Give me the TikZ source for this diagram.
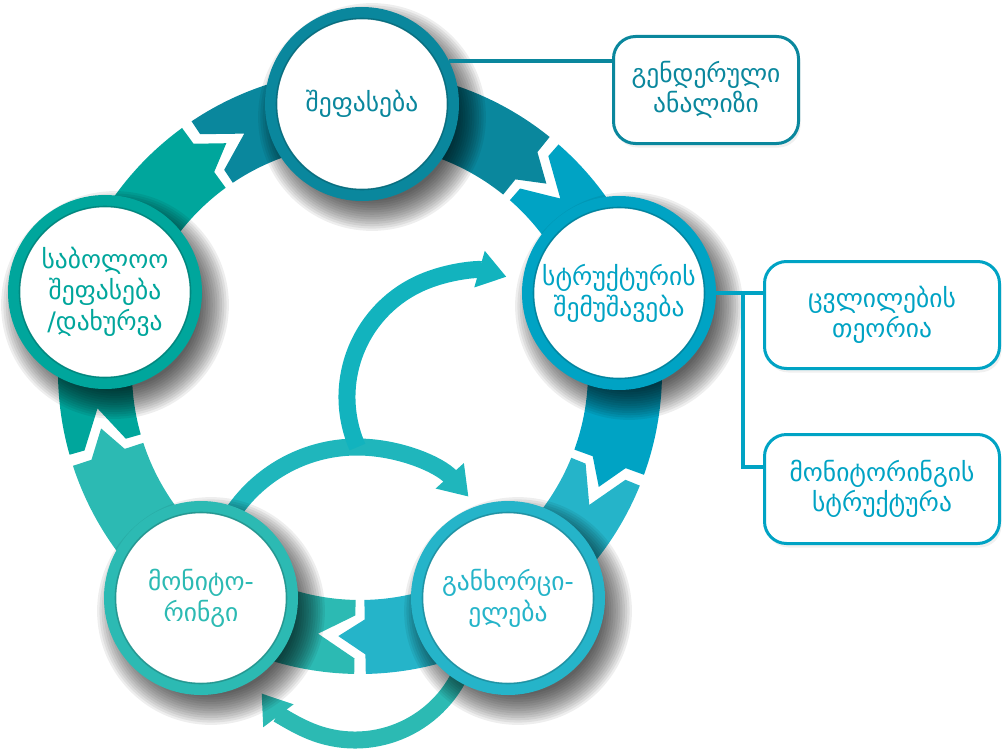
\documentclass[tikz,border=0pt]{standalone}
\usepackage{fontspec}
\setmainfont{DejaVu Sans}
\usetikzlibrary{arrows.meta,calc,shadows}
\definecolor{cT}{HTML}{0A879D}
\definecolor{cR}{HTML}{00A3C4}
\definecolor{cBR}{HTML}{25B4C9}
\definecolor{cBL}{HTML}{2CBAB3}
\definecolor{cL}{HTML}{00A69C}
\definecolor{cA}{HTML}{1FB6BC}
\definecolor{cA2}{HTML}{12B3BE}
\newcommand\ringseg[3]{%
  \pgfmathsetmacro\segA{#2-1.1}\pgfmathsetmacro\segB{#3+1.1}%
  \fill[#1] (\segA:302) arc[start angle=\segA,end angle=\segB,radius=302]
    -- (\segB:282.5) -- ({\segB-5.8}:265) -- (\segB:247.5) -- (\segB:228)
    arc[start angle=\segB,end angle=\segA,radius=228]
    -- (\segA:243.5) -- ({\segA-8}:265) -- (\segA:286.5) -- cycle;}
\newcommand\cshadow[2]{%
  \foreach \k in {0,...,13}{\fill[black,opacity=0.065] ({#1+10},{#2-13}) circle ({84+2.3*\k});}}
\newcommand\innerrim[2]{\draw[#1!70!black,line width=1.6pt,opacity=.6] (#2.center) circle (85.5);}
\begin{document}
\begin{tikzpicture}[x=1pt,y=1pt,
  disc/.style={circle, fill=white, draw=#1, line width=12pt, minimum size=182pt,
    inner sep=0pt, text=#1, align=center, font=\fontsize{25.5}{31}\selectfont},
  infobox/.style={rectangle, rounded corners=22pt, draw=#1, line width=3pt, fill=white,
    text=#1, align=center, font=\fontsize{25.5}{30}\selectfont,
    drop shadow={opacity=0.12, shadow xshift=2pt, shadow yshift=-4pt}},
  link/.style={draw=#1, line width=4pt},
  flow/.style={draw=#1, line width=17pt, -{Triangle[width=36pt,length=28pt]}},
]
\useasboundingbox (0,0) rectangle (1003,-749);
% ring of arrow segments
\begin{scope}[shift={(360,-372)}]
  \ringseg{cT}{125}{50}
  \ringseg{cR}{50}{-21}
  \ringseg{cBR}{-21}{-90}
  \ringseg{cBL}{-90}{-163}
  \ringseg{cL}{-163}{-235}
\end{scope}
% inner flow arrows
\coordinate (a1s) at ($(357,-597)+(150:150)$);
\coordinate (a2s) at ($(472,-397)+(203.6:125)$);
\coordinate (a3s) at ($(355,-623)+(-20:117)$);
\draw[flow=cA] (a1s) arc[start angle=150,end angle=42,radius=150];
\draw[flow=cA2] (a2s) arc[start angle=203.6,end angle=74,radius=125];
\draw[flow=cBL] (a3s) arc[start angle=-20,end angle=-143,radius=117];
% circle shadows
\cshadow{362}{-104}
\cshadow{619}{-293}
\cshadow{508}{-598}
\cshadow{201}{-598}
\cshadow{105}{-292}
% circles
\node[disc=cT] (top) at (362,-104) {შეფასება};
\node[disc=cR] (rgt) at (619,-293) {სტრუქტურის\\შემუშავება};
\node[disc=cBR] (brt) at (508,-598) {განხორცი-\\ელება};
\node[disc=cBL] (blt) at (201,-598) {მონიტო-\\რინგი};
\node[disc=cL] (lft) at (105,-292) {საბოლოო\\შეფასება\\/დახურვა};
\innerrim{cT}{top}\innerrim{cR}{rgt}\innerrim{cBR}{brt}\innerrim{cBL}{blt}\innerrim{cL}{lft}
% boxes
\node[infobox=cT, minimum width=185pt, minimum height=107pt] (gen) at (706,-90) {გენდერული\\ანალიზი};
\node[infobox=cR, minimum width=235pt, minimum height=107pt] (cvl) at (882,-315) {ცვლილების\\თეორია};
\node[infobox=cR, minimum width=235pt, minimum height=109pt] (mon) at (882,-489) {მონიტორინგის\\სტრუქტურა};
% connectors
\draw[link=cT] (top.26) -- (top.26 -| gen.west);
\draw[link=cR] (rgt.east) -- (rgt.east -| cvl.west);
\coordinate (fork) at (743,-293);
\coordinate (fork2) at (743,-467);
\draw[link=cR] (fork) -- (fork2) -- (fork2 -| mon.west);
\end{tikzpicture}
\end{document}
